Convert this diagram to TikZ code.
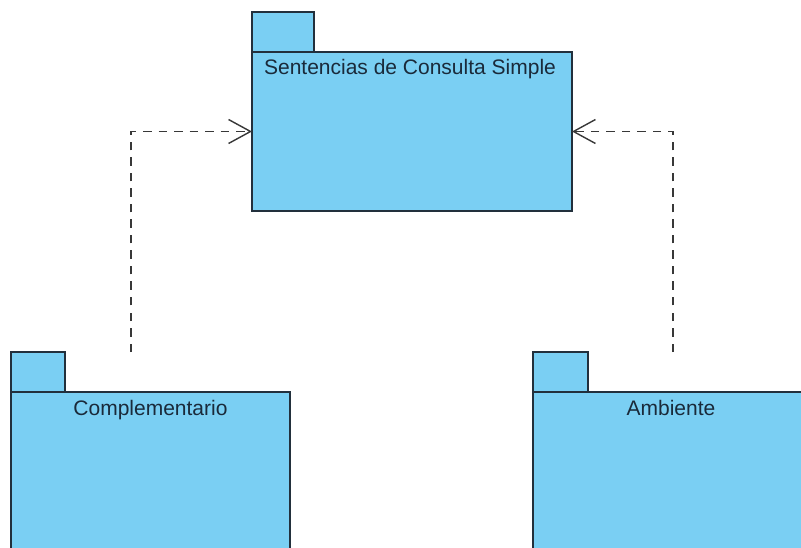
\documentclass[tikz,border=0pt]{standalone}
\usepackage{fontspec}
\setmainfont{Liberation Sans}
\usetikzlibrary{arrows.meta}
\definecolor{pkgfill}{HTML}{7ACFF3}
\definecolor{pkgline}{HTML}{22303C}
\definecolor{depline}{HTML}{383838}
\definecolor{pkgtext}{HTML}{1A2A3A}
\tikzset{
  pkgpart/.style={draw=pkgline, fill=pkgfill, line width=1.4pt, rectangle,
    inner sep=0pt, outer sep=0pt, anchor=north west},
  pkgtab/.style={pkgpart, minimum width=#1, minimum height=40pt},
  pkgbody/.style={pkgpart, minimum width=#1, minimum height=170pt},
  pkglabel/.style={anchor=base, inner sep=0pt, text=pkgtext, font=\fontsize{21}{24}\selectfont},
  dependency/.style={draw=depline, line width=1.4pt, dash pattern=on 8.5pt off 7pt,
    -{Straight Barb[length=22pt, width=24pt, line width=1.4pt]}}
}
\begin{document}
\begin{tikzpicture}[x=1pt, y=-1pt]
  \useasboundingbox (0,0) rectangle (801,548);
  \clip (0,0) rectangle (801,548);

  % package: Sentencias de Consulta Simple
  \node[pkgtab=62pt] (topTab) at (252,12) {};
  \node[pkgpart, minimum width=320pt, minimum height=159pt] (topBody) at (252,52) {};
  \node[pkglabel] (topLabel) at ([xshift=-2pt, yshift=-23pt]topBody.north) {Sentencias de Consulta Simple};

  % package: Complementario
  \node[pkgtab=54pt] (leftTab) at (11,352) {};
  \node[pkgbody=279pt] (leftBody) at (11,392) {};
  \node[pkglabel] (leftLabel) at ([yshift=-23pt]leftBody.north) {Complementario};

  % package: Ambiente
  \node[pkgtab=55pt] (rightTab) at (533,352) {};
  \node[pkgbody=276pt] (rightBody) at (533,392) {};
  \node[pkglabel] (rightLabel) at ([yshift=-23pt]rightBody.north) {Ambiente};

  % dependency start points on the package outlines
  \coordinate (leftStart) at (131,352);
  \coordinate (rightStart) at (673,352);

  \draw[dependency] (leftStart) |- (topBody.west);
  \draw[dependency] (rightStart) |- (topBody.east);
\end{tikzpicture}
\end{document}
